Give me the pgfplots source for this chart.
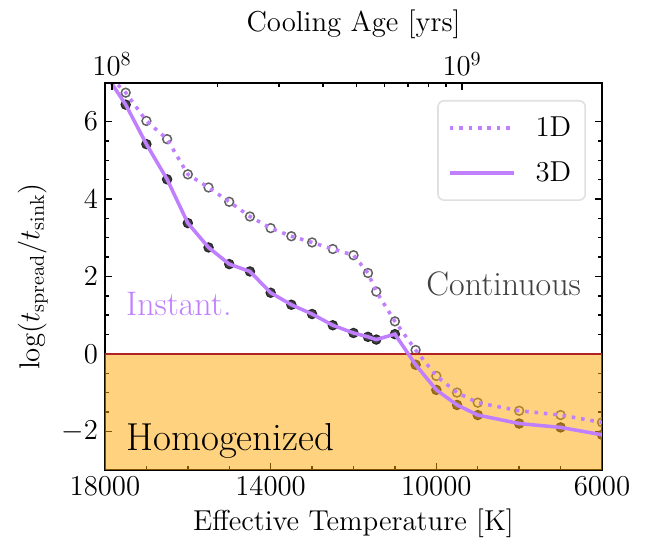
\RequirePackage{fix-cm}
\documentclass[border=0pt]{standalone}
\usepackage{pgfplots}
\pgfplotsset{compat=1.18}

\definecolor{purp}{RGB}{191,127,255}
\definecolor{homog}{RGB}{255,165,0}
\definecolor{zeroline}{RGB}{178,34,34}
\definecolor{contgray}{RGB}{64,64,64}

% Teff [K], log(t_spread/t_sink) for the 3D and 1D models
\pgfplotstableread{
T      d3     d1
18000  7.25   7.30
17500  6.44   6.75
17000  5.42   6.02
16500  4.51   5.55
16000  3.38   4.64
15500  2.75   4.30
15000  2.32   3.93
14500  2.13   3.55
14000  1.58   3.25
13500  1.27   3.04
13000  1.03   2.88
12500  0.74   2.71
12000  0.54   2.55
11650  0.44   2.09
11450  0.37   1.61
11000  0.51   0.84
10500  -0.28  0.10
10000  -0.93  -0.57
9500   -1.32  -1.00
9000   -1.58  -1.26
8000   -1.80  -1.47
7000   -1.90  -1.58
6000   -2.09  -1.77
}\models

\begin{document}
\begin{tikzpicture}[font=\fontsize{14.4}{17}\selectfont]
\begin{axis}[
  scale only axis, width=248.5pt, height=193.5pt,
  xmin=6000, xmax=18000, x dir=reverse,
  ymin=-3, ymax=7,
  xtick={6000,10000,14000,18000},
  minor x tick num=3,
  ytick={-2,0,2,4,6},
  minor y tick num=3,
  tick align=inside,
  xtick pos=bottom, ytick pos=both, yticklabel pos=left,
  major tick length=3.5pt, minor tick length=2pt,
  every tick/.style={black, line width=0.7pt},
  axis line style={line width=1.1pt},
  scaled x ticks=false,
  xticklabel style={/pgf/number format/1000 sep={}},
  xlabel={Effective Temperature [K]},
  ylabel={$\log(t_{\mathrm{spread}}/t_{\mathrm{sink}})$},
  clip marker paths=true,
  legend cell align=left,
  legend image code/.code={\draw[#1] (0pt,0pt) -- (32pt,0pt);},
  legend style={at={(1,1)}, anchor=north east, xshift=-8pt, yshift=-8.5pt,
    draw=black!12, line width=0.8pt, rounded corners=3pt, fill=white,
    inner xsep=5pt, inner ysep=6pt, row sep=7pt,
    font=\fontsize{14.4}{17}\selectfont,
    /tikz/every odd column/.append style={column sep=8pt}},
]
\coordinate (bl) at (rel axis cs:0,0);
\coordinate (tr) at (rel axis cs:1,1);

% model points
\addplot[only marks, mark=*, mark size=2.3pt,
  mark options={fill=black!74, draw=black!85, line width=0.6pt}, forget plot]
  table[x=T, y=d3] {\models};
\addplot[only marks, mark=o, mark size=2.2pt,
  mark options={draw=black!62, line width=0.75pt}, forget plot]
  table[x=T, y=d1] {\models};

% homogenized region below zero
\addplot[draw=none, fill=homog, fill opacity=0.5, forget plot]
  coordinates {(18500,-3.5) (5500,-3.5) (5500,0) (18500,0)} -- cycle;
\addplot[zeroline, line width=0.9pt, forget plot]
  coordinates {(18500,0) (5500,0)};

% model curves
\addplot[purp, line width=1.77pt, line cap=butt, dash pattern=on 1.77pt off 2.93pt]
  table[x=T, y=d1] {\models};
\addlegendentry{1D}
\addplot[purp, line width=1.77pt]
  table[x=T, y=d3] {\models};
\addlegendentry{3D}

\node[anchor=base west, inner sep=0pt, text=purp, font=\fontsize{17}{20}\selectfont]
  at (axis cs:17500,1.0) {Instant.};
\node[anchor=base east, inner sep=0pt, text=contgray, font=\fontsize{17}{20}\selectfont]
  at (axis cs:6500,1.5) {Continuous};
\node[anchor=base west, inner sep=0pt, text=black, font=\fontsize{19.5}{23}\selectfont]
  at (axis cs:17500,-2.5) {Homogenized};
\end{axis}

% cooling age axis along the top
\begin{axis}[
  scale only axis, width=248.5pt, height=193.5pt,
  xmode=log, xmin=9.55e7, xmax=2.51e9,
  ymin=0, ymax=1,
  axis x line*=top, axis y line=none,
  xtick={1e8,1e9},
  tick align=inside,
  major tick length=3.5pt, minor tick length=2pt,
  every tick/.style={black, line width=0.7pt},
  axis line style={line width=1.1pt},
  xlabel={Cooling Age [yrs]},
]
\end{axis}

\pgfresetboundingbox
\path ([shift={(-52.5pt,-36.5pt)}]bl) rectangle ([shift={(23pt,41.5pt)}]tr);
\end{tikzpicture}
\end{document}
